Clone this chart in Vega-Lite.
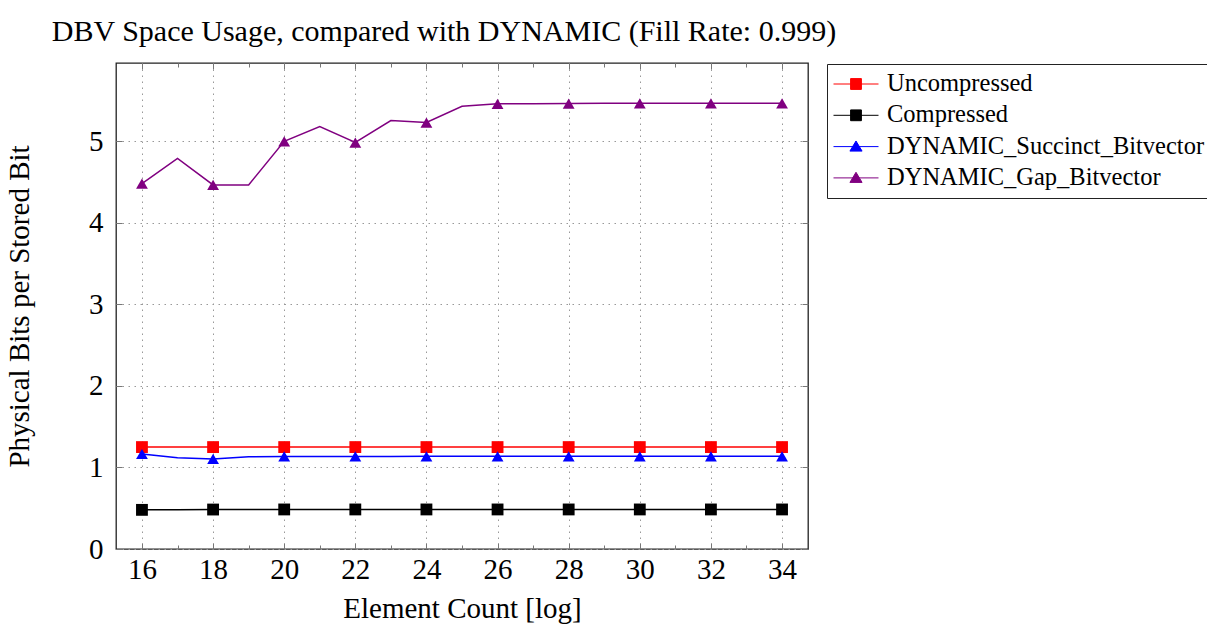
{
  "$schema": "https://vega.github.io/schema/vega-lite/v6.json",
  "autosize": {"type": "none"},
  "padding": {"left": 116, "top": 63, "right": 399, "bottom": 78},
  "width": 692,
  "height": 486,
  "background": "white",
  "title": {
    "text": "DBV Space Usage, compared with DYNAMIC (Fill Rate: 0.999)",
    "font": "Liberation Serif",
    "fontSize": 30,
    "fontWeight": "normal",
    "color": "black",
    "anchor": "middle",
    "frame": "group",
    "baseline": "alphabetic",
    "offset": -8,
    "dx": -18
  },
  "config": {
    "view": {"stroke": "#222", "strokeWidth": 1.3},
    "axis": {
      "labelFont": "Liberation Serif",
      "labelFontSize": 29,
      "labelColor": "black",
      "titleFont": "Liberation Serif",
      "titleFontSize": 29,
      "titleFontWeight": "normal",
      "titleColor": "black",
      "tickColor": "#777",
      "tickWidth": 1,
      "domain": false,
      "grid": false
    }
  },
  "data": {
    "values": [
      {"x": 16, "series": "Uncompressed", "value": 1.25},
      {"x": 17, "series": "Uncompressed", "value": 1.25},
      {"x": 18, "series": "Uncompressed", "value": 1.25},
      {"x": 19, "series": "Uncompressed", "value": 1.25},
      {"x": 20, "series": "Uncompressed", "value": 1.25},
      {"x": 21, "series": "Uncompressed", "value": 1.25},
      {"x": 22, "series": "Uncompressed", "value": 1.25},
      {"x": 23, "series": "Uncompressed", "value": 1.25},
      {"x": 24, "series": "Uncompressed", "value": 1.25},
      {"x": 25, "series": "Uncompressed", "value": 1.25},
      {"x": 26, "series": "Uncompressed", "value": 1.25},
      {"x": 27, "series": "Uncompressed", "value": 1.25},
      {"x": 28, "series": "Uncompressed", "value": 1.25},
      {"x": 29, "series": "Uncompressed", "value": 1.25},
      {"x": 30, "series": "Uncompressed", "value": 1.25},
      {"x": 31, "series": "Uncompressed", "value": 1.25},
      {"x": 32, "series": "Uncompressed", "value": 1.25},
      {"x": 33, "series": "Uncompressed", "value": 1.25},
      {"x": 34, "series": "Uncompressed", "value": 1.25},
      {"x": 16, "series": "Compressed", "value": 0.48},
      {"x": 17, "series": "Compressed", "value": 0.482},
      {"x": 18, "series": "Compressed", "value": 0.484},
      {"x": 19, "series": "Compressed", "value": 0.485},
      {"x": 20, "series": "Compressed", "value": 0.485},
      {"x": 21, "series": "Compressed", "value": 0.485},
      {"x": 22, "series": "Compressed", "value": 0.485},
      {"x": 23, "series": "Compressed", "value": 0.485},
      {"x": 24, "series": "Compressed", "value": 0.485},
      {"x": 25, "series": "Compressed", "value": 0.485},
      {"x": 26, "series": "Compressed", "value": 0.485},
      {"x": 27, "series": "Compressed", "value": 0.485},
      {"x": 28, "series": "Compressed", "value": 0.485},
      {"x": 29, "series": "Compressed", "value": 0.485},
      {"x": 30, "series": "Compressed", "value": 0.485},
      {"x": 31, "series": "Compressed", "value": 0.485},
      {"x": 32, "series": "Compressed", "value": 0.485},
      {"x": 33, "series": "Compressed", "value": 0.485},
      {"x": 34, "series": "Compressed", "value": 0.485},
      {"x": 16, "series": "DYNAMIC_Succinct_Bitvector", "value": 1.165},
      {"x": 17, "series": "DYNAMIC_Succinct_Bitvector", "value": 1.12},
      {"x": 18, "series": "DYNAMIC_Succinct_Bitvector", "value": 1.105},
      {"x": 19, "series": "DYNAMIC_Succinct_Bitvector", "value": 1.13},
      {"x": 20, "series": "DYNAMIC_Succinct_Bitvector", "value": 1.135},
      {"x": 21, "series": "DYNAMIC_Succinct_Bitvector", "value": 1.135},
      {"x": 22, "series": "DYNAMIC_Succinct_Bitvector", "value": 1.135},
      {"x": 23, "series": "DYNAMIC_Succinct_Bitvector", "value": 1.135},
      {"x": 24, "series": "DYNAMIC_Succinct_Bitvector", "value": 1.137},
      {"x": 25, "series": "DYNAMIC_Succinct_Bitvector", "value": 1.137},
      {"x": 26, "series": "DYNAMIC_Succinct_Bitvector", "value": 1.137},
      {"x": 27, "series": "DYNAMIC_Succinct_Bitvector", "value": 1.137},
      {"x": 28, "series": "DYNAMIC_Succinct_Bitvector", "value": 1.137},
      {"x": 29, "series": "DYNAMIC_Succinct_Bitvector", "value": 1.137},
      {"x": 30, "series": "DYNAMIC_Succinct_Bitvector", "value": 1.137},
      {"x": 31, "series": "DYNAMIC_Succinct_Bitvector", "value": 1.137},
      {"x": 32, "series": "DYNAMIC_Succinct_Bitvector", "value": 1.137},
      {"x": 33, "series": "DYNAMIC_Succinct_Bitvector", "value": 1.137},
      {"x": 34, "series": "DYNAMIC_Succinct_Bitvector", "value": 1.137},
      {"x": 16, "series": "DYNAMIC_Gap_Bitvector", "value": 4.48},
      {"x": 17, "series": "DYNAMIC_Gap_Bitvector", "value": 4.79},
      {"x": 18, "series": "DYNAMIC_Gap_Bitvector", "value": 4.465},
      {"x": 19, "series": "DYNAMIC_Gap_Bitvector", "value": 4.465},
      {"x": 20, "series": "DYNAMIC_Gap_Bitvector", "value": 5.0},
      {"x": 21, "series": "DYNAMIC_Gap_Bitvector", "value": 5.18},
      {"x": 22, "series": "DYNAMIC_Gap_Bitvector", "value": 4.985},
      {"x": 23, "series": "DYNAMIC_Gap_Bitvector", "value": 5.255},
      {"x": 24, "series": "DYNAMIC_Gap_Bitvector", "value": 5.23},
      {"x": 25, "series": "DYNAMIC_Gap_Bitvector", "value": 5.43},
      {"x": 26, "series": "DYNAMIC_Gap_Bitvector", "value": 5.46},
      {"x": 27, "series": "DYNAMIC_Gap_Bitvector", "value": 5.46},
      {"x": 28, "series": "DYNAMIC_Gap_Bitvector", "value": 5.463},
      {"x": 29, "series": "DYNAMIC_Gap_Bitvector", "value": 5.465},
      {"x": 30, "series": "DYNAMIC_Gap_Bitvector", "value": 5.465},
      {"x": 31, "series": "DYNAMIC_Gap_Bitvector", "value": 5.465},
      {"x": 32, "series": "DYNAMIC_Gap_Bitvector", "value": 5.465},
      {"x": 33, "series": "DYNAMIC_Gap_Bitvector", "value": 5.465},
      {"x": 34, "series": "DYNAMIC_Gap_Bitvector", "value": 5.465}
    ]
  },
  "resolve": {"axis": {"x": "independent", "y": "independent"}},
  "encoding": {
    "color": {
      "field": "series",
      "type": "nominal",
      "scale": {
        "domain": ["Uncompressed", "Compressed", "DYNAMIC_Succinct_Bitvector", "DYNAMIC_Gap_Bitvector"],
        "range": ["#ff0000", "#000000", "#0000ff", "#800080"]
      },
      "legend": {
        "title": null,
        "orient": "none",
        "legendX": 711,
        "legendY": 1,
        "padding": 6,
        "strokeColor": "#222",
        "fillColor": "white",
        "labelFont": "Liberation Serif",
        "labelFontSize": 24.5,
        "labelColor": "black",
        "labelOffset": 8,
        "labelLimit": 400,
        "symbolSize": 2025,
        "symbolStrokeWidth": 1,
        "clipHeight": 28,
        "rowPadding": 3.3,
        "encode": {
          "symbols": {
            "update": {
              "shape": {"signal": "indexof(['Uncompressed','Compressed'], datum.value) >= 0 ? 'M-1,0H1M-0.24,-0.24H0.24V0.24H-0.24Z' : 'M-1,0H1M-0.27,0.2L0,-0.25L0.27,0.2Z'"},
              "fill": {"signal": "scale('color', datum.value)"},
              "stroke": {"signal": "scale('color', datum.value)"},
              "strokeWidth": {"value": 1},
              "opacity": {"value": 1}
            }
          }
        }
      }
    }
  },
  "layer": [
    {
      "transform": [{"filter": "datum.series !== 'DYNAMIC_Gap_Bitvector'"}],
      "mark": {"type": "line", "strokeWidth": 1.5},
      "encoding": {
        "x": {
          "field": "x", "type": "quantitative",
          "scale": {"domain": [15.27, 34.73], "nice": false, "zero": false},
          "axis": {
            "orient": "bottom",
            "title": "Element Count [log]",
            "values": [16, 18, 20, 22, 24, 26, 28, 30, 32, 34],
            "tickSize": -6,
            "labelPadding": 12,
            "titlePadding": 10,
            "grid": true,
            "gridColor": "#999",
            "gridDash": [1.5, 4.5],
            "gridWidth": 1
          }
        },
        "y": {
          "field": "value", "type": "quantitative",
          "scale": {"domain": [0, 5.96], "nice": false, "zero": false},
          "axis": {
            "orient": "left",
            "title": "Physical Bits per Stored Bit",
            "values": [0, 1, 2, 3, 4, 5],
            "tickSize": -6,
            "labelPadding": 19,
            "titlePadding": 54,
            "grid": true,
            "gridColor": "#999",
            "gridDash": [1.5, 4.5],
            "gridWidth": 1
          }
        }
      }
    },
    {
      "transform": [{"filter": "datum.series === 'DYNAMIC_Gap_Bitvector'"}],
      "mark": {"type": "line", "strokeWidth": 1.5},
      "encoding": {
        "x": {
          "field": "x", "type": "quantitative",
          "axis": {
            "orient": "top",
            "title": null,
            "labels": false,
            "values": [17, 19, 21, 23, 25, 27, 29, 31, 33],
            "tickSize": -4
          }
        },
        "y": {"field": "value", "type": "quantitative", "axis": null}
      }
    },
    {
      "transform": [
        {"filter": "datum.x % 2 === 0"},
        {"filter": "datum.series === 'Uncompressed' || datum.series === 'Compressed'"}
      ],
      "mark": {"type": "point", "shape": "square", "filled": true, "opacity": 1, "size": 140},
      "encoding": {
        "x": {
          "field": "x", "type": "quantitative",
          "axis": {
            "orient": "top",
            "title": null,
            "labels": false,
            "values": [16, 18, 20, 22, 24, 26, 28, 30, 32, 34],
            "tickSize": -6
          }
        },
        "y": {
          "field": "value", "type": "quantitative",
          "axis": {
            "orient": "right",
            "title": null,
            "labels": false,
            "values": [0, 1, 2, 3, 4, 5],
            "tickSize": -6
          }
        }
      }
    },
    {
      "transform": [
        {"filter": "datum.x % 2 === 0"},
        {"filter": "datum.series === 'DYNAMIC_Succinct_Bitvector' || datum.series === 'DYNAMIC_Gap_Bitvector'"}
      ],
      "mark": {"type": "point", "shape": "triangle-up", "filled": true, "opacity": 1, "size": 140},
      "encoding": {
        "x": {
          "field": "x", "type": "quantitative",
          "axis": {
            "orient": "bottom",
            "title": null,
            "labels": false,
            "values": [17, 19, 21, 23, 25, 27, 29, 31, 33],
            "tickSize": -4
          }
        },
        "y": {"field": "value", "type": "quantitative", "axis": null}
      }
    }
  ]
}
